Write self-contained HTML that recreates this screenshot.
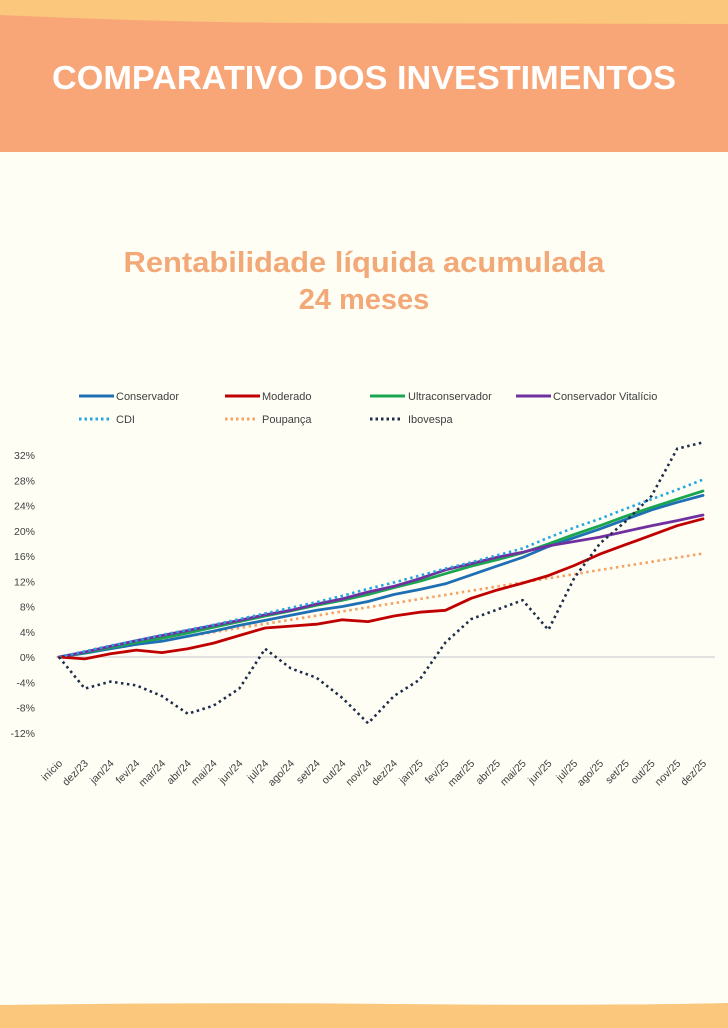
<!DOCTYPE html>
<html><head><meta charset="utf-8"><style>
html,body{margin:0;padding:0;}
body{width:728px;height:1028px;background:#fefef5;position:relative;overflow:hidden;font-family:"Liberation Sans",sans-serif;}
svg{position:absolute;left:0;top:0;}
</style></head><body>
<svg id="s" width="728" height="1028" viewBox="0 0 728 1028">
<rect x="0" y="0" width="728" height="40" fill="#fbc77d"/>
<path d="M0 15 Q150 22 300 23 L728 24 L728 152 L0 152 Z" fill="#f8a677"/>
<text x="364" y="89" text-anchor="middle" fill="#fff" font-size="33" font-weight="bold" textLength="624" lengthAdjust="spacingAndGlyphs">COMPARATIVO DOS INVESTIMENTOS</text>
<text x="364" y="272" text-anchor="middle" fill="#f3a877" font-size="29" font-weight="bold" textLength="481" lengthAdjust="spacingAndGlyphs">Rentabilidade líquida acumulada</text>
<text x="364" y="309" text-anchor="middle" fill="#f3a877" font-size="29" font-weight="bold">24 meses</text>
<path d="M0 1005 Q200 1002 400 1004 Q600 1006 728 1003 L728 1028 L0 1028 Z" fill="#fbc77d"/>
<g font-size="11" fill="#404040">
<line x1="79" y1="396" x2="114" y2="396" stroke="#1f6fb5" stroke-width="3"/><text x="116" y="400">Conservador</text>
<line x1="225" y1="396" x2="260" y2="396" stroke="#c00000" stroke-width="3"/><text x="262" y="400">Moderado</text>
<line x1="370" y1="396" x2="405" y2="396" stroke="#1aa550" stroke-width="3"/><text x="408" y="400">Ultraconservador</text>
<line x1="516" y1="396" x2="551" y2="396" stroke="#7030a0" stroke-width="3"/><text x="553" y="400">Conservador Vitalício</text>
<line x1="79" y1="419" x2="112" y2="419" stroke="#22a7e0" stroke-width="3" stroke-dasharray="2.5,3"/><text x="116" y="423">CDI</text>
<line x1="225" y1="419" x2="258" y2="419" stroke="#f4a161" stroke-width="3" stroke-dasharray="2.5,3"/><text x="262" y="423">Poupança</text>
<line x1="370" y1="419" x2="403" y2="419" stroke="#1f2d4a" stroke-width="3" stroke-dasharray="2.5,3"/><text x="408" y="423">Ibovespa</text>
</g>
<line x1="56" y1="657" x2="715" y2="657" stroke="#d9d9d9" stroke-width="1.5"/>
<g id="yl" font-size="10.5" fill="#404040" text-anchor="end"></g>
<g id="xl" font-size="10.5" fill="#404040" text-anchor="end"></g>
<g id="ln" fill="none" stroke-linejoin="round" stroke-linecap="round"></g>
</svg>
<script>
var NS="http://www.w3.org/2000/svg";
function Y(v){return 657-v*6.3125;}
function X(i){return 59+i*25.76;}
var yl=document.getElementById("yl");
for(var v=-12;v<=32;v+=4){var t=document.createElementNS(NS,"text");t.setAttribute("x",35);t.setAttribute("y",Y(v)+4);t.textContent=v+"%";yl.appendChild(t);}
var labs=["início","dez/23","jan/24","fev/24","mar/24","abr/24","mai/24","jun/24","jul/24","ago/24","set/24","out/24","nov/24","dez/24","jan/25","fev/25","mar/25","abr/25","mai/25","jun/25","jul/25","ago/25","set/25","out/25","nov/25","dez/25"];
var xl=document.getElementById("xl");
labs.forEach(function(l,i){var t=document.createElementNS(NS,"text");var x=X(i)+4,y=764;t.setAttribute("x",x);t.setAttribute("y",y);t.setAttribute("transform","rotate(-45 "+x+" "+y+")");t.textContent=l;xl.appendChild(t);});
var pou=[];for(var i=0;i<26;i++)pou.push(16.4*i/25);
var S=[
[pou,"#f4a161",true],
[[0,0.6,1.3,2,2.5,3.3,4.1,5,5.8,6.6,7.4,8,8.8,9.9,10.7,11.6,13,14.4,15.8,17.5,18.9,20.3,21.8,23.3,24.5,25.6],"#1f6fb5",false],
[[0,0.7,1.5,2.3,3,3.8,4.7,5.6,6.5,7.3,8.2,9,9.9,11,12,13.2,14.4,15.4,16.5,17.9,19.4,20.8,22.3,23.7,25,26.3],"#1aa550",false],
[[0,0.8,1.7,2.6,3.4,4.2,5,5.8,6.7,7.4,8.4,9.2,10.3,11.2,12.4,13.8,14.8,15.8,16.6,17.6,18.3,19,19.9,20.8,21.6,22.5],"#7030a0",false],
[[0,-0.3,0.5,1.1,0.7,1.3,2.2,3.4,4.6,4.9,5.2,5.9,5.6,6.5,7.1,7.4,9.3,10.6,11.7,12.9,14.5,16.3,17.8,19.3,20.8,21.9],"#c00000",false],
[[0,0.9,1.8,2.6,3.5,4.3,5.1,6,6.9,7.8,8.7,9.7,10.8,11.8,12.9,14,15,16.1,17.2,18.9,20.5,21.9,23.5,25,26.5,28.1],"#22a7e0",true],
[[0,-5,-3.9,-4.5,-6.2,-9,-7.7,-5,1.3,-1.8,-3.3,-6.5,-10.5,-6.2,-3.6,2.3,6,7.5,9,4.3,12.5,18,21.5,25.5,33,34],"#1f2d4a",true]
];
var ln=document.getElementById("ln");
S.forEach(function(s){var p=document.createElementNS(NS,"polyline");p.setAttribute("points",s[0].map(function(v,i){return X(i).toFixed(1)+","+Y(v).toFixed(1);}).join(" "));p.setAttribute("stroke",s[1]);p.setAttribute("stroke-width",s[2]?2.6:2.8);if(s[2]){p.setAttribute("stroke-dasharray","2.5,3.5");p.setAttribute("stroke-linecap","butt");}ln.appendChild(p);});
</script>
</body></html>
